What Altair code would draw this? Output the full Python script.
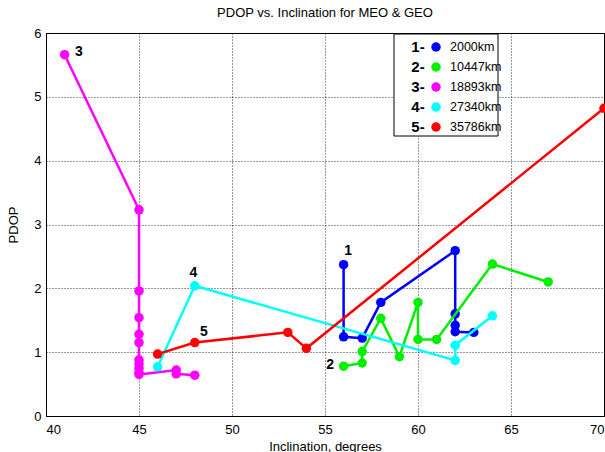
import altair as alt
import pandas as pd

series = ["2000km", "10447km", "18893km", "27340km", "35786km"]
colors = ["#0000FF", "#00EE00", "#FF00FF", "#00FFFF", "#FF0000"]
prefixes = ["1-", "2-", "3-", "4-", "5-"]

x1 = [56, 56, 57, 58, 62, 62, 62, 62, 63]
y1 = [2.37, 1.24, 1.22, 1.78, 2.59, 1.60, 1.42, 1.32, 1.31]
x2 = [56, 57, 57, 58, 59, 60, 60, 61, 64, 67]
y2 = [0.78, 0.83, 1.01, 1.53, 0.93, 1.78, 1.20, 1.20, 2.38, 2.10]
x3 = [41, 45, 45, 45, 45, 45, 45, 45, 45, 45, 45, 47, 47, 48]
y3 = [5.66, 3.23, 1.96, 1.54, 1.28, 1.15, 0.88, 0.82, 0.75, 0.68, 0.65, 0.72, 0.66, 0.64]
x4 = [46, 48, 62, 62, 64]
y4 = [0.77, 2.04, 0.87, 1.11, 1.57]
x5 = [46, 48, 53, 54, 70]
y5 = [0.97, 1.15, 1.31, 1.06, 4.82]

ann_text = ["1", "2", "3", "4", "5"]
ann_x = [56.25, 55.27, 41.77, 47.92, 48.49]
ann_y = [2.59, 0.80, 5.71, 2.24, 1.32]

x_ticks = [40, 45, 50, 55, 60, 65, 70]
y_ticks = [0, 1, 2, 3, 4, 5, 6]

rows = []
for name, xs, ys in zip(series, [x1, x2, x3, x4, x5], [y1, y2, y3, y4, y5]):
    for i, (xv, yv) in enumerate(zip(xs, ys)):
        rows.append({"series": name, "order": i, "incl": xv, "pdop": yv})
df = pd.DataFrame(rows)
ann = pd.DataFrame({"label": ann_text, "incl": ann_x, "pdop": ann_y})
one = pd.DataFrame({"k": [0]})

font = "Liberation Sans"

xenc = alt.X("incl:Q", scale=alt.Scale(domain=[40, 70], nice=False, zero=False),
             axis=alt.Axis(values=x_ticks, title="Inclination, degrees", format="d"))
yenc = alt.Y("pdop:Q", scale=alt.Scale(domain=[0, 6], nice=False),
             axis=alt.Axis(values=y_ticks, title="PDOP", format="d"))
cenc = alt.Color("series:N", scale=alt.Scale(domain=series, range=colors), legend=None)

layers = []
for name in series:
    sub = alt.Chart(df).transform_filter(alt.datum.series == name).encode(
        x=xenc, y=yenc, color=cenc, order="order:Q")
    layers.append(sub.mark_line(strokeWidth=2.5))
    layers.append(sub.mark_point(filled=True, size=90, opacity=1))

text = alt.Chart(ann).mark_text(font=font, fontWeight="bold", fontSize=14,
                                color="black", baseline="middle", align="center").encode(
    x=alt.X("incl:Q"), y=alt.Y("pdop:Q"), text="label:N")
layers.append(text)

# legend box (drawn on top of the plot)
layers.append(alt.Chart(one).mark_rect(fill="white", stroke="black", strokeWidth=1).encode(
    x=alt.value(348), x2=alt.value(452), y=alt.value(1), y2=alt.value(103)))
for i, (p, name, c) in enumerate(zip(prefixes, series, colors)):
    yy = 14 + 20 * i
    layers.append(alt.Chart(one).mark_text(font=font, fontWeight="bold", fontSize=15,
                                           color="black", align="center",
                                           baseline="middle").encode(
        x=alt.value(372), y=alt.value(yy), text=alt.value(p)))
    layers.append(alt.Chart(one).mark_point(filled=True, size=90, opacity=1).encode(
        x=alt.value(390), y=alt.value(yy), color=alt.value(c)))
    layers.append(alt.Chart(one).mark_text(font=font, fontSize=12.5, color="black",
                                           align="left", baseline="middle").encode(
        x=alt.value(404), y=alt.value(yy), text=alt.value(name)))

chart = alt.layer(*layers).properties(
    width=558, height=383,
    autosize=alt.AutoSizeParams(type="none"),
    padding={"left": 46, "top": 33, "right": 1, "bottom": 36},
    title=alt.TitleParams("PDOP vs. Inclination for MEO & GEO", font=font, fontSize=13,
                          fontWeight="normal", color="black", anchor="middle", offset=7),
).configure_view(stroke="black", strokeWidth=1).configure_axis(
    grid=True, gridColor="black", gridDash=[1, 2], gridOpacity=0.8, gridWidth=1,
    domainColor="black", ticks=False, labelFont=font, labelFontSize=13, labelColor="black",
    titleFont=font, titleFontSize=13, titleFontWeight="normal", titleColor="black",
    labelPadding=5,
).configure_axisX(labelPadding=7, titlePadding=4).configure_axisY(titlePadding=13)

chart.save("out.html", embed_options={"renderer": "svg", "actions": False})
